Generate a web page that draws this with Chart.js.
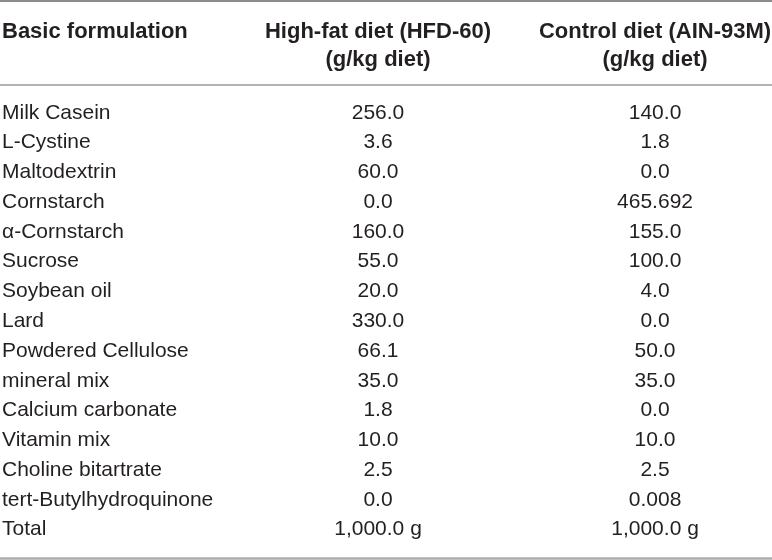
<!DOCTYPE html>
<html>
<head>
<meta charset="utf-8">
<script src="https://cdn.jsdelivr.net/npm/chart.js@4"></script>
<style>
  html, body { margin: 0; padding: 0; background: #fff; }
  #wrap { width: 772px; height: 560px; position: relative; }
</style>
</head>
<body>
<div id="wrap"><canvas id="tableChart"></canvas></div>
<script>
const rows = ['Milk Casein', 'L-Cystine', 'Maltodextrin', 'Cornstarch', 'α-Cornstarch', 'Sucrose',
    'Soybean oil', 'Lard', 'Powdered Cellulose', 'mineral mix', 'Calcium carbonate', 'Vitamin mix',
    'Choline bitartrate', 'tert-Butylhydroquinone', 'Total'];
const columns = [['High-fat diet (HFD-60)', '(g/kg diet)'], ['Control diet (AIN-93M)', '(g/kg diet)']];
const rowHeader = 'Basic formulation';
const hfd = [256.0, 3.6, 60.0, 0.0, 160.0, 55.0, 20.0, 330.0, 66.1, 35.0, 1.8, 10.0, 2.5, 0.0, 1000.0];
const control = [140.0, 1.8, 0.0, 465.692, 155.0, 100.0, 4.0, 0.0, 50.0, 35.0, 0.0, 10.0, 2.5, 0.008, 1000.0];
const totalUnit = ' g';

const textColor = '#231f20';
const family = '"Liberation Sans", Arial, Helvetica, sans-serif';

function fmt(v, i) {
    const dec = (String(v).split('.')[1] || '').length;
    let s = v.toLocaleString('en-US', {minimumFractionDigits: Math.max(1, dec)});
    if (i === rows.length - 1) s += totalUnit;
    return s;
}

// draw the cell texts at the points placed by the scales, plus the rules
const tablePlugin = {
    id: 'tablePlugin',
    afterDraw(chart) {
        const c = chart.ctx;
        const area = chart.chartArea;
        const xs = chart.scales.x;
        c.save();
        c.fillStyle = textColor;
        c.textAlign = 'center';
        c.textBaseline = 'middle';
        c.font = '21px ' + family;
        chart.data.datasets.forEach((ds, d) => {
            chart.getDatasetMeta(d).data.forEach((el, i) => {
                c.fillText(fmt(ds.raw[i], i), el.x, el.y);
            });
        });
        // header of the first column
        c.font = 'bold 22px ' + family;
        c.textAlign = 'left';
        c.fillText(rowHeader, chart.scales.y.left, xs.bottom - 24 - 28 - 14);

        // horizontal rules
        c.strokeStyle = '#8c8c8c';
        c.lineWidth = 2;
        c.beginPath(); c.moveTo(0, 1); c.lineTo(chart.width, 1); c.stroke();
        c.strokeStyle = '#9a9a9a';
        c.lineWidth = 1.5;
        c.beginPath(); c.moveTo(0, area.top - 13); c.lineTo(chart.width, area.top - 13); c.stroke();
        c.strokeStyle = '#ababab';
        c.lineWidth = 2.5;
        c.beginPath(); c.moveTo(0, chart.height - 1.5); c.lineTo(chart.width, chart.height - 1.5); c.stroke();
        c.restore();
    }
};

function points(values, col) {
    return values.map((v, i) => ({x: col, y: rows[i]}));
}

new Chart(document.getElementById('tableChart'), {
    type: 'scatter',
    data: {
        datasets: [
            {label: columns[0][0], data: points(hfd, 0), raw: hfd, pointRadius: 0},
            {label: columns[1][0], data: points(control, 1), raw: control, pointRadius: 0}
        ]
    },
    options: {
        responsive: true,
        maintainAspectRatio: false,
        animation: false,
        events: [],
        layout: {padding: {left: 2, right: 2, top: 18, bottom: 15}},
        plugins: {legend: {display: false}, tooltip: {enabled: false}},
        scales: {
            x: {
                type: 'linear',
                position: 'top',
                min: -0.491,
                max: 1.415,
                grid: {display: false, drawTicks: false},
                border: {display: false},
                afterBuildTicks: (scale) => { scale.ticks = [{value: 0}, {value: 1}]; },
                afterFit: (scale) => {
                    scale.height = 80;
                    scale.paddingLeft = 0;
                    scale.paddingRight = 0;
                },
                ticks: {
                    padding: 24,
                    color: textColor,
                    font: {family: family, size: 22, weight: 'bold', lineHeight: 1.27},
                    maxRotation: 0,
                    autoSkip: false,
                    callback: (v) => columns[v]
                }
            },
            y: {
                type: 'category',
                labels: rows,
                offset: true,
                grid: {display: false, drawTicks: false},
                border: {display: false},
                afterFit: (scale) => { scale.width = 240; },
                ticks: {
                    crossAlign: 'far',
                    color: textColor,
                    font: {family: family, size: 21},
                    autoSkip: false
                }
            }
        }
    },
    plugins: [tablePlugin]
});
</script>
</body>
</html>
